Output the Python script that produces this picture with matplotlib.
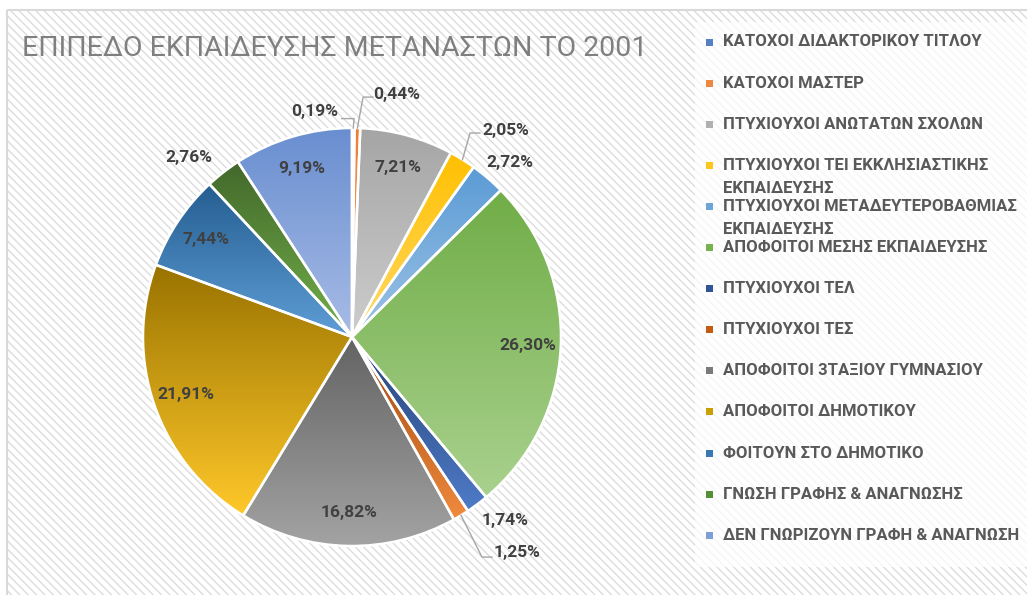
import matplotlib
matplotlib.use("Agg")
import matplotlib.pyplot as plt
import numpy as np
from matplotlib.colors import to_rgb
from matplotlib.patches import Rectangle

# ---- data -------------------------------------------------------------
title = "ΕΠΙΠΕΔΟ ΕΚΠΑΙΔΕΥΣΗΣ ΜΕΤΑΝΑΣΤΩΝ ΤΟ 2001"
categories = [
    "ΚΑΤΟΧΟΙ ΔΙΔΑΚΤΟΡΙΚΟΥ ΤΙΤΛΟΥ",
    "ΚΑΤΟΧΟΙ ΜΑΣΤΕΡ",
    "ΠΤΥΧΙΟΥΧΟΙ ΑΝΩΤΑΤΩΝ ΣΧΟΛΩΝ",
    "ΠΤΥΧΙΟΥΧΟΙ ΤΕΙ ΕΚΚΛΗΣΙΑΣΤΙΚΗΣ\nΕΚΠΑΙΔΕΥΣΗΣ",
    "ΠΤΥΧΙΟΥΧΟΙ ΜΕΤΑΔΕΥΤΕΡΟΒΑΘΜΙΑΣ\nΕΚΠΑΙΔΕΥΣΗΣ",
    "ΑΠΟΦΟΙΤΟΙ ΜΕΣΗΣ ΕΚΠΑΙΔΕΥΣΗΣ",
    "ΠΤΥΧΙΟΥΧΟΙ ΤΕΛ",
    "ΠΤΥΧΙΟΥΧΟΙ ΤΕΣ",
    "ΑΠΟΦΟΙΤΟΙ 3ΤΑΞΙΟΥ ΓΥΜΝΑΣΙΟΥ",
    "ΑΠΟΦΟΙΤΟΙ ΔΗΜΟΤΙΚΟΥ",
    "ΦΟΙΤΟΥΝ ΣΤΟ ΔΗΜΟΤΙΚΟ",
    "ΓΝΩΣΗ ΓΡΑΦΗΣ & ΑΝΑΓΝΩΣΗΣ",
    "ΔΕΝ ΓΝΩΡΙΖΟΥΝ ΓΡΑΦΗ & ΑΝΑΓΝΩΣΗ",
]
percent = [0.19, 0.44, 7.21, 2.05, 2.72, 26.30, 1.74, 1.25, 16.82, 21.91, 7.44, 2.76, 9.19]

# ---- styles -------------------------------------------------------------
# gradient per slice: colour at top of the wedge -> colour at bottom
top_colors = ["#4472C4", "#ED7D31", "#A5A5A5", "#FFC000", "#5B9BD5", "#70AD47",
              "#264478", "#9E480E", "#636363", "#997300", "#255E91", "#43682B", "#698ED0"]
bottom_colors = ["#8FAADC", "#F4B183", "#CDCDCD", "#FFD966", "#9DC3E6", "#A9D18E",
                 "#4F7BC8", "#F08A3E", "#A3A3A3", "#FFC82A", "#5E9ED6", "#72B04A", "#A8BCE6"]
legend_colors = ["#5580C8", "#EE8740", "#B0B0B0", "#FFC51A", "#6CA5D8", "#77B24F",
                 "#2F5597", "#C55A11", "#7A7A7A", "#C9A000", "#3A78B4", "#559037", "#7E9ED8"]

TXT = "#404040"
FONT = ["Roboto", "DejaVu Sans"]

# outside labels: text position and leader elbow (in pie radius units)
outside = {
    0: ((-0.18, 1.077), [(-0.05, 1.045), (0.01, 1.045)]),
    1: ((0.215, 1.158), [(0.10, 1.148), (0.053, 1.148)]),
    3: ((0.735, 0.986), [(0.612, 0.976), (0.565, 0.976)]),
    4: ((0.756, 0.833), None),
    6: ((0.732, -0.876), None),
    7: ((0.79, -1.029), [(0.67, -1.053), (0.622, -1.053)]),
    11: ((-0.78, 0.861), None),
}

W, H = 1027, 595
fig = plt.figure(figsize=(W / 100, H / 100), dpi=100)
fig.patch.set_facecolor("white")

# background / title / legend layer in pixel coordinates
bg = fig.add_axes([0, 0, 1, 1], zorder=0)
bg.set_xlim(0, W)
bg.set_ylim(H, 0)
bg.axis("off")
bg.add_patch(Rectangle((7, 10), W, H, facecolor="white", edgecolor="#dcdcdc",
                       hatch="\\\\\\\\", linewidth=0))
bg.add_patch(Rectangle((7, 10), W, H, facecolor="none", edgecolor="#d9d9d9", linewidth=1.5))
bg.add_patch(Rectangle((695, 22), W - 695, 545, facecolor="white", alpha=0.75,
                       edgecolor="none"))

bg.text(22, 49, title, fontsize=20.5, color="#7f7f7f", va="center", ha="left",
        fontweight="normal", family=FONT)

# legend
for i, (lab, col) in enumerate(zip(categories, legend_colors)):
    y = 42 + i * 41.1
    bg.add_patch(Rectangle((706, y - 3.5), 7, 7, facecolor=col, edgecolor="none"))
    for j, line in enumerate(lab.split("\n")):
        bg.text(723, y + j * 23, line, fontsize=12.0, fontweight="bold",
                color="#595959", va="center", ha="left", family=FONT)

# pie
R = 209.0
cx, cy = 352, 337
lim = 1.3
side = 2 * lim * R
ax = fig.add_axes([(cx - side / 2) / W, (H - cy - side / 2) / H, side / W, side / H],
                  zorder=1)
ax.set_facecolor("none")

wedges, _ = ax.pie(percent, startangle=90, counterclock=False, radius=1,
                   colors=["none"] * len(percent),
                   wedgeprops=dict(edgecolor="white", linewidth=1.8))

for w, c0, c1 in zip(wedges, top_colors, bottom_colors):
    ext = w.get_path().get_extents()
    c0, c1 = np.array(to_rgb(c0)), np.array(to_rgb(c1))
    t = np.linspace(0, 1, 256)[:, None]
    grad = (c0 * (1 - t) + c1 * t)[:, None, :]
    im = ax.imshow(grad, extent=[ext.x0, ext.x1, ext.y0, ext.y1], origin="upper",
                   aspect="auto", zorder=1, interpolation="bilinear")
    im.set_clip_path(w)
    w.set_zorder(2)

ax.set_xlim(-lim, lim)
ax.set_ylim(-lim, lim)
ax.set_aspect("equal")
ax.axis("off")

# data labels
for i, (w, v) in enumerate(zip(wedges, percent)):
    txt = f"{v:.2f}%".replace(".", ",")
    mid = np.deg2rad((w.theta1 + w.theta2) / 2)
    if i in outside:
        (tx, ty), elbow = outside[i]
        if elbow:
            ex, ey = np.cos(mid), np.sin(mid)
            xs = [elbow[0][0], elbow[1][0], ex]
            ys = [elbow[0][1], elbow[1][1], ey]
            ax.plot(xs, ys, color="#a6a6a6", lw=1, zorder=3, clip_on=False)
    else:
        tx, ty = 0.84 * np.cos(mid), 0.84 * np.sin(mid)
    ax.text(tx, ty, txt, ha="center", va="center", fontsize=12.5, fontweight="bold",
            color=TXT, family=FONT, zorder=4, clip_on=False)

fig.savefig("out.png", dpi=100)
